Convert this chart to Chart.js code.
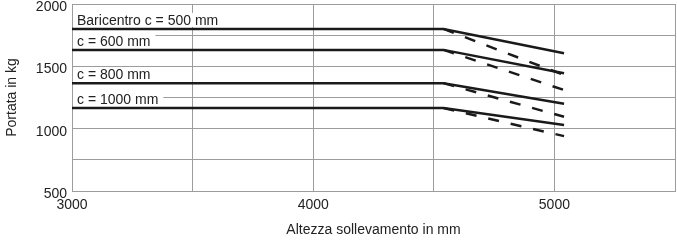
<!DOCTYPE html>
<html>
<head>
<meta charset="utf-8">
<script src="https://cdn.jsdelivr.net/npm/chart.js@4/dist/chart.umd.min.js"></script>
<style>
  html, body { margin: 0; padding: 0; background: #fff; }
  #wrap { width: 677px; height: 248px; }
</style>
</head>
<body>
<div id="wrap"><canvas id="chart"></canvas></div>
<script>
// altezza sollevamento (mm): inizio, punto di riduzione, fine
const altezze = [3000, 4540, 5040];
const altezzeRid = [4540, 5040];

const etichette = ["Baricentro c = 500 mm", "c = 600 mm", "c = 800 mm", "c = 1000 mm"];
// portata (kg), linee continue
const portata500 = [1800, 1800, 1605];
const portata600 = [1632, 1632, 1445];
const portata800 = [1365, 1365, 1200];
const portata1000 = [1165, 1165, 1030];
// portata ridotta (kg), linee tratteggiate
const ridotta500 = [1800, 1430];
const ridotta600 = [1632, 1310];
const ridotta800 = [1365, 1095];
const ridotta1000 = [1165, 940];

const continue_ = [portata500, portata600, portata800, portata1000];
const tratteggiate = [ridotta500, ridotta600, ridotta800, ridotta1000];

const font = "'Liberation Sans', Arial, sans-serif";
const grigio = "#9c9c9c";

const datasets = [];
continue_.forEach((serie, i) => {
  datasets.push({
    label: etichette[i],
    data: altezze.map((x, j) => ({x: x, y: serie[j]})),
    borderColor: "#1a1a1a", borderWidth: 2.5, pointRadius: 0, tension: 0
  });
});
tratteggiate.forEach((serie, i) => {
  datasets.push({
    label: etichette[i] + " (rid.)",
    data: altezzeRid.map((x, j) => ({x: x, y: serie[j]})),
    borderColor: "#1a1a1a", borderWidth: 2.5, borderDash: [11, 12], pointRadius: 0, tension: 0
  });
});

// etichette sopra le linee, con fondo bianco
const etichettePlugin = {
  id: "etichette",
  beforeDatasetsDraw(chart) {
    const ctx = chart.ctx, area = chart.chartArea, ys = chart.scales.y;
    ctx.save();
    ctx.font = "14px " + font;
    ctx.textBaseline = "alphabetic";
    continue_.forEach((serie, i) => {
      const base = ys.getPixelForValue(serie[0]) - 4;
      const x = area.left + 5;
      const w = ctx.measureText(etichette[i]).width;
      ctx.fillStyle = "#fff";
      ctx.fillRect(area.left + 1, base - 12, w + 9, 14);
      ctx.fillStyle = "#222";
      ctx.fillText(etichette[i], x, base);
    });
    ctx.restore();
  }
};

new Chart(document.getElementById("chart"), {
  type: "line",
  data: { datasets: datasets },
  options: {
    responsive: true, maintainAspectRatio: false, animation: false,
    layout: { padding: { top: 4, right: 2, left: 0, bottom: 0 } },
    plugins: { legend: { display: false }, tooltip: { enabled: false } },
    scales: {
      x: {
        type: "linear", min: 3000, max: 5500,
        ticks: {
          stepSize: 500, padding: 6, color: "#222", font: { family: font, size: 14 },
          maxRotation: 0, autoSkip: false,
          callback: v => (v % 1000 === 0 ? String(v) : "")
        },
        grid: { color: grigio, lineWidth: 1, drawTicks: false },
        border: { color: grigio },
        title: { display: true, text: "Altezza sollevamento in mm", color: "#222",
                 font: { family: font, size: 14 }, padding: { top: 4, bottom: 9 } },
        afterFit: s => { s.height = 57; s.paddingLeft = 0; s.paddingRight = 0; }
      },
      y: {
        min: 500, max: 2000,
        ticks: {
          stepSize: 250, padding: 5, labelOffset: 3, color: "#222", font: { family: font, size: 14 },
          autoSkip: false,
          callback: v => (v % 500 === 0 ? String(v) : "")
        },
        grid: { color: grigio, lineWidth: 1, drawTicks: false },
        border: { color: grigio },
        title: { display: true, text: "Portata in kg", color: "#222",
                 font: { family: font, size: 14 }, padding: { top: 4, bottom: 4 } },
        afterFit: s => { s.width = 72; s.paddingTop = 0; s.paddingBottom = 0; }
      }
    }
  },
  plugins: [etichettePlugin]
});
</script>
</body>
</html>
